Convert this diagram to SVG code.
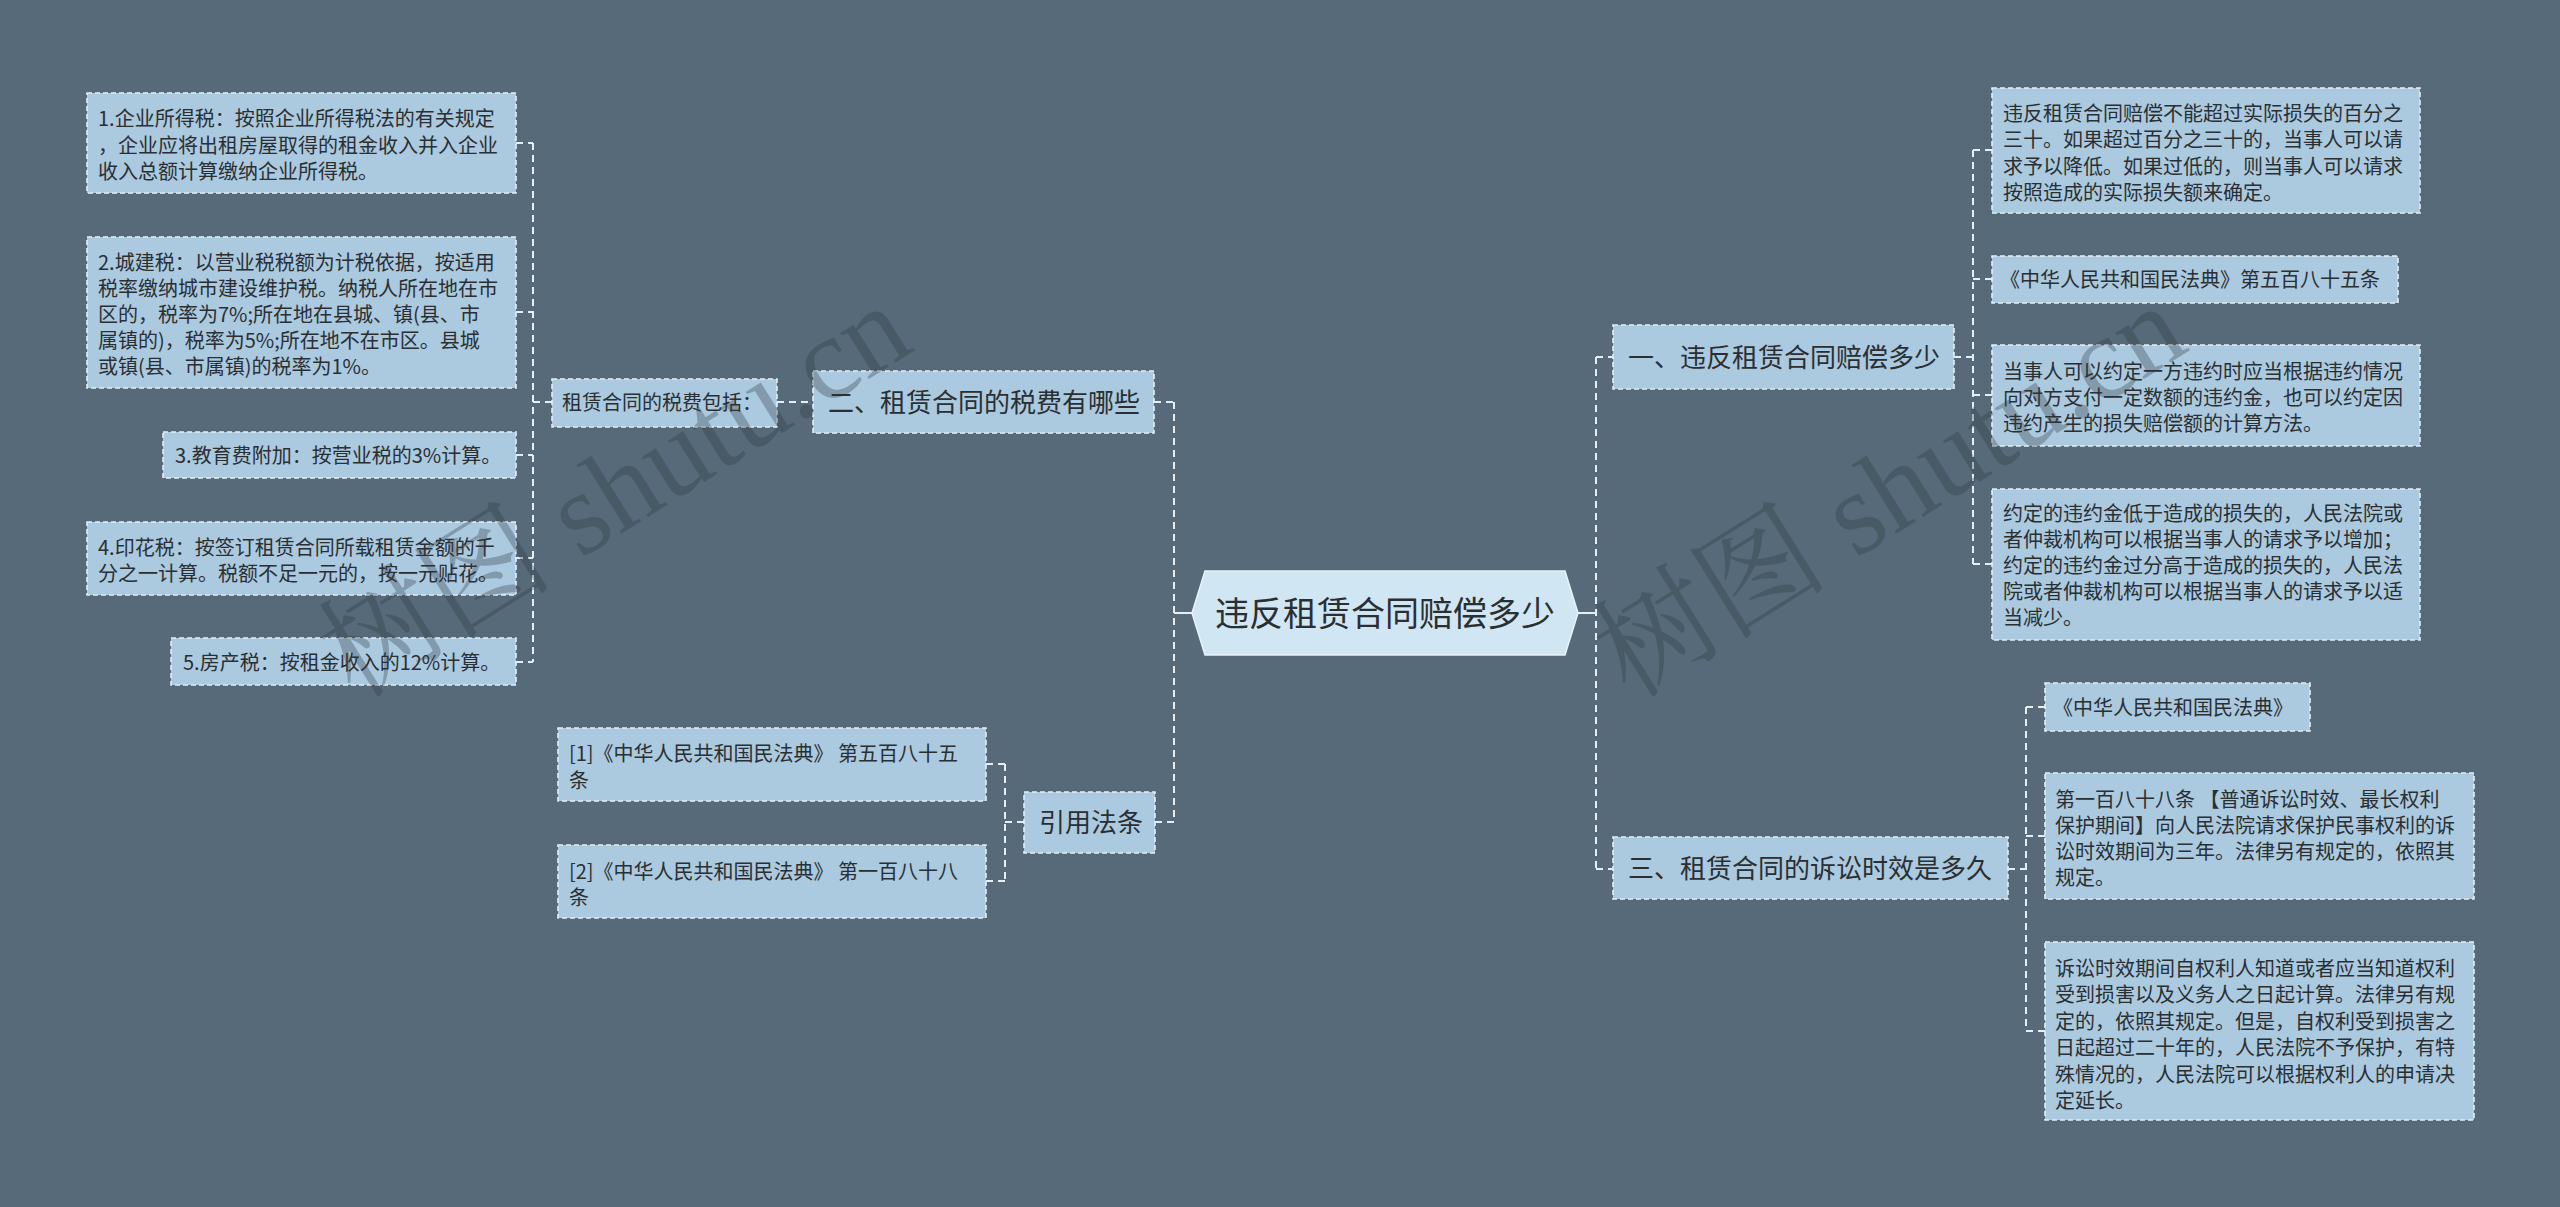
<svg xmlns="http://www.w3.org/2000/svg" width="2560" height="1207" viewBox="0 0 2560 1207">
<style>
.node rect{fill:#abc9df;stroke:#e4eef5;stroke-width:1.6;stroke-dasharray:5 3}
.center polygon{fill:#d0e6f2;stroke:#e8f2f8;stroke-width:1.5}
text{font-family:"Noto Sans CJK SC","Noto Sans",sans-serif;fill:#2a2f33}
.t20{font-size:20px}
.t26{font-size:26px}
.t34{font-size:34px}
.conn path{fill:none;stroke:#e6eef4;stroke-width:2;stroke-dasharray:7 5}
.conn .solid{stroke-dasharray:none}
.wm{font-family:"Liberation Serif","Noto Serif CJK SC","Noto Sans CJK SC",serif;font-size:118px;fill:#2f3a42;opacity:0.32}
</style>
<rect width="2560" height="1207" fill="#566a79"/>

<g id="connectors" class="conn">
  <!-- left tax bracket -->
  <path d="M533 143 V662 M516 143 H533 M516 312 H533 M516 455 H533 M516 558 H533 M516 662 H533 M533 402 H552"/>
  <path d="M777 402 H813"/>
  <path d="M1154 402 H1174"/>
  <path d="M1174 402 V822"/>
  <path class="solid" d="M1174 613 H1192"/>
  <path d="M1155 822 H1174"/>
  <!-- citations bracket -->
  <path d="M1005 764 V881 M986 764 H1005 M986 881 H1005 M1005 822 H1024"/>
  <!-- right main -->
  <path class="solid" d="M1578 613 H1596"/>
  <path d="M1596 357 V869 M1596 357 H1613 M1596 869 H1613"/>
  <!-- branch one -->
  <path d="M1954 357 H1973 M1973 150 V564 M1973 150 H1992 M1973 279 H1992 M1973 395 H1992 M1973 564 H1992"/>
  <!-- branch three -->
  <path d="M2008 869 H2026 M2026 707 V1031 M2026 707 H2045 M2026 836 H2045 M2026 1031 H2045"/>
</g>

<g id="center" class="center">
  <polygon points="1192,613 1205,571 1565,571 1578,613 1565,655 1205,655"/>
  <text class="t34" x="1385" y="626" text-anchor="middle">违反租赁合同赔偿多少</text>
</g>

<g id="n-tax" class="node">
  <rect x="813" y="371" width="341" height="62"/>
  <text class="t26" x="828" y="412">二、租赁合同的税费有哪些</text>
</g>
<g id="n-tax-include" class="node">
  <rect x="552" y="379" width="225" height="48"/>
  <text class="t20" x="562" y="410">租赁合同的税费包括：</text>
</g>
<g id="n-tax1" class="node">
  <rect x="87" y="93" width="429" height="100"/>
  <text class="t20" x="98" y="126"><tspan x="98">1.企业所得税：按照企业所得税法的有关规定</tspan><tspan x="98" dy="26.5">，企业应将出租房屋取得的租金收入并入企业</tspan><tspan x="98" dy="26.5">收入总额计算缴纳企业所得税。</tspan></text>
</g>
<g id="n-tax2" class="node">
  <rect x="87" y="237" width="429" height="151"/>
  <text class="t20" x="98" y="270"><tspan x="98">2.城建税：以营业税税额为计税依据，按适用</tspan><tspan x="98" dy="26">税率缴纳城市建设维护税。纳税人所在地在市</tspan><tspan x="98" dy="26">区的，税率为7%;所在地在县城、镇(县、市</tspan><tspan x="98" dy="26">属镇的)，税率为5%;所在地不在市区。县城</tspan><tspan x="98" dy="26">或镇(县、市属镇)的税率为1%。</tspan></text>
</g>
<g id="n-tax3" class="node">
  <rect x="163" y="432" width="353" height="46"/>
  <text class="t20" x="175" y="463">3.教育费附加：按营业税的3%计算。</text>
</g>
<g id="n-tax4" class="node">
  <rect x="87" y="522" width="429" height="73"/>
  <text class="t20" x="98" y="555"><tspan x="98">4.印花税：按签订租赁合同所载租赁金额的千</tspan><tspan x="98" dy="26">分之一计算。税额不足一元的，按一元贴花。</tspan></text>
</g>
<g id="n-tax5" class="node">
  <rect x="171" y="638" width="345" height="47"/>
  <text class="t20" x="183" y="670">5.房产税：按租金收入的12%计算。</text>
</g>

<g id="n-cite" class="node">
  <rect x="1024" y="792" width="131" height="61"/>
  <text class="t26" x="1039" y="832">引用法条</text>
</g>
<g id="n-cite1" class="node">
  <rect x="558" y="728" width="428" height="73"/>
  <text class="t20" x="569" y="761"><tspan x="569">[1]《中华人民共和国民法典》 第五百八十五</tspan><tspan x="569" dy="27">条</tspan></text>
</g>
<g id="n-cite2" class="node">
  <rect x="558" y="845" width="428" height="73"/>
  <text class="t20" x="569" y="879"><tspan x="569">[2]《中华人民共和国民法典》 第一百八十八</tspan><tspan x="569" dy="26">条</tspan></text>
</g>

<g id="n-one" class="node">
  <rect x="1613" y="325" width="341" height="64"/>
  <text class="t26" x="1628" y="367">一、违反租赁合同赔偿多少</text>
</g>
<g id="n-one1" class="node">
  <rect x="1992" y="88" width="428" height="125"/>
  <text class="t20" x="2003" y="121"><tspan x="2003">违反租赁合同赔偿不能超过实际损失的百分之</tspan><tspan x="2003" dy="26.3">三十。如果超过百分之三十的，当事人可以请</tspan><tspan x="2003" dy="26.3">求予以降低。如果过低的，则当事人可以请求</tspan><tspan x="2003" dy="26.3">按照造成的实际损失额来确定。</tspan></text>
</g>
<g id="n-one2" class="node">
  <rect x="1992" y="256" width="406" height="47"/>
  <text class="t20" x="2000" y="287">《中华人民共和国民法典》第五百八十五条</text>
</g>
<g id="n-one3" class="node">
  <rect x="1992" y="345" width="428" height="101"/>
  <text class="t20" x="2003" y="379"><tspan x="2003">当事人可以约定一方违约时应当根据违约情况</tspan><tspan x="2003" dy="26">向对方支付一定数额的违约金，也可以约定因</tspan><tspan x="2003" dy="26">违约产生的损失赔偿额的计算方法。</tspan></text>
</g>
<g id="n-one4" class="node">
  <rect x="1992" y="489" width="428" height="151"/>
  <text class="t20" x="2003" y="521"><tspan x="2003">约定的违约金低于造成的损失的，人民法院或</tspan><tspan x="2003" dy="26">者仲裁机构可以根据当事人的请求予以增加；</tspan><tspan x="2003" dy="26">约定的违约金过分高于造成的损失的，人民法</tspan><tspan x="2003" dy="26">院或者仲裁机构可以根据当事人的请求予以适</tspan><tspan x="2003" dy="26">当减少。</tspan></text>
</g>

<g id="n-three" class="node">
  <rect x="1613" y="837" width="395" height="62"/>
  <text class="t26" x="1628" y="878">三、租赁合同的诉讼时效是多久</text>
</g>
<g id="n-three1" class="node">
  <rect x="2045" y="683" width="265" height="48"/>
  <text class="t20" x="2053" y="715">《中华人民共和国民法典》</text>
</g>
<g id="n-three2" class="node">
  <rect x="2045" y="773" width="429" height="126"/>
  <text class="t20" x="2055" y="807"><tspan x="2055">第一百八十八条 【普通诉讼时效、最长权利</tspan><tspan x="2055" dy="26">保护期间】向人民法院请求保护民事权利的诉</tspan><tspan x="2055" dy="26">讼时效期间为三年。法律另有规定的，依照其</tspan><tspan x="2055" dy="26">规定。</tspan></text>
</g>
<g id="n-three3" class="node">
  <rect x="2045" y="942" width="429" height="178"/>
  <text class="t20" x="2055" y="976"><tspan x="2055">诉讼时效期间自权利人知道或者应当知道权利</tspan><tspan x="2055" dy="26.4">受到损害以及义务人之日起计算。法律另有规</tspan><tspan x="2055" dy="26.4">定的，依照其规定。但是，自权利受到损害之</tspan><tspan x="2055" dy="26.4">日起超过二十年的，人民法院不予保护，有特</tspan><tspan x="2055" dy="26.4">殊情况的，人民法院可以根据权利人的申请决</tspan><tspan x="2055" dy="26.4">定延长。</tspan></text>
</g>

<g id="watermark">
  <text class="wm" transform="translate(355 700) rotate(-32)">树图 shutu.cn</text>
  <text class="wm" transform="translate(1630 700) rotate(-32)">树图 shutu.cn</text>
</g>
</svg>
